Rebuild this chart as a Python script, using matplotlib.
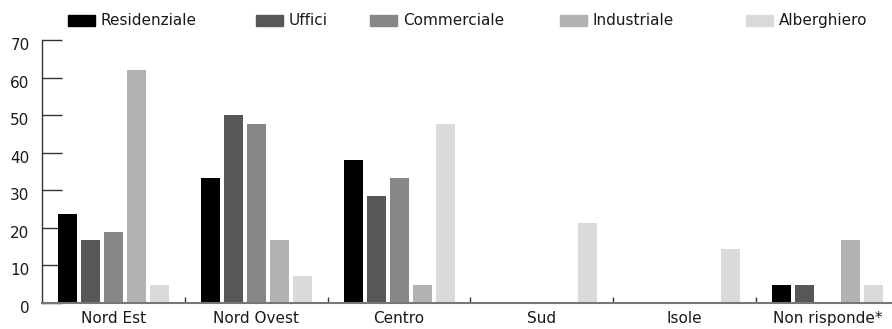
import numpy as np
import matplotlib
matplotlib.use("Agg")
import matplotlib.pyplot as plt
import matplotlib.transforms as mtransforms
from matplotlib.patches import Rectangle

plt.rcParams['font.family'] = ['DejaVu Sans']

# data
regions = ['Nord Est', 'Nord Ovest', 'Centro', 'Sud', 'Isole', 'Non risponde*']
series = ['Residenziale', 'Uffici', 'Commerciale', 'Industriale', 'Alberghiero']
residenziale = [23.8, 33.3, 38.1, 0, 0, 4.8]
uffici = [16.7, 50.0, 28.6, 0, 0, 4.8]
commerciale = [19.0, 47.6, 33.3, 0, 0, 0]
industriale = [61.9, 16.7, 4.8, 0, 0, 16.7]
alberghiero = [4.8, 7.1, 47.6, 21.4, 14.3, 4.8]
values = [residenziale, uffici, commerciale, industriale, alberghiero]
colors = ['#000000', '#575756', '#878787', '#b2b2b2', '#dadada']

W, H = 892, 329
fig = plt.figure(figsize=(W / 100, H / 100), dpi=100)
ax = fig.add_axes([42 / W, 26 / H, 857 / W, 263 / H])

x = np.arange(len(regions)) + 0.5
step = 0.161
width = 0.133
for j, (vals, col) in enumerate(zip(values, colors)):
    ax.bar(x + (j - 2) * step, vals, width=width, color=col, zorder=2)

ax.set_xlim(0, 6)
ax.set_ylim(0, 70)
ax.set_yticks(range(0, 80, 10))
ax.set_xticks(x)
ax.set_xticklabels(regions)
ax.set_xticks(np.arange(1, 6), minor=True)

for s in ['top', 'right']:
    ax.spines[s].set_visible(False)
ax.spines['left'].set_color('#333333')
ax.spines['left'].set_linewidth(1.0)
ax.spines['bottom'].set_color('#777777')
ax.spines['bottom'].set_linewidth(1.5)
ax.spines['bottom'].set_zorder(3)

fs = 11
ax.tick_params(axis='y', direction='in', length=14.5, width=1.0, color='#333333',
               pad=9, labelsize=fs, labelcolor='#1a1a1a')
ax.tick_params(axis='x', which='major', length=0, pad=6, labelsize=fs,
               labelcolor='#1a1a1a')
ax.tick_params(axis='x', which='minor', direction='in', length=4, width=1.0,
               color='#333333')

# y labels sit a little below their ticks in the original
shift = mtransforms.ScaledTranslation(0, -4 / 100, fig.dpi_scale_trans)
for lab in ax.get_yticklabels():
    lab.set_transform(lab.get_transform() + shift)

# legend drawn across the top
leg_x = [68, 256, 370, 560, 746]
for lx, name, col in zip(leg_x, series, colors):
    fig.patches.append(Rectangle((lx / W, (H - 26) / H), 27 / W, 11 / H,
                                 transform=fig.transFigure, color=col))
    fig.text((lx + 33) / W, (H - 20.5) / H, name, fontsize=fs,
             color='#1a1a1a', va='center', ha='left')

fig.savefig('out.png', dpi=100)
